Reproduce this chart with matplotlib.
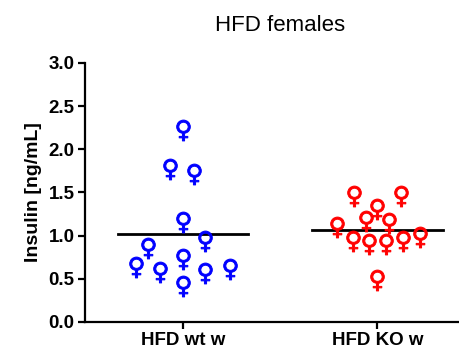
import matplotlib
matplotlib.use('Agg')
import matplotlib.pyplot as plt
import numpy as np

plt.rcParams['font.family'] = ['Liberation Sans', 'DejaVu Sans']

groups = ['HFD wt w', 'HFD KO w']
colors = ['#0000ff', '#ff0000']

# insulin values per mouse (ng/mL)
wt = [2.22, 1.77, 1.71, 1.16, 0.94, 0.85, 0.73, 0.64, 0.58, 0.57, 0.61, 0.42]
ko = [1.46, 1.46, 1.31, 1.17, 1.15, 1.10, 0.94, 0.90, 0.90, 0.94, 0.98, 0.49]
# horizontal scatter of the points, as in the prism plot
wt_off = [0, -0.065, 0.058, 0, 0.115, -0.18, 0, -0.24, -0.12, 0.115, 0.24, 0]
ko_off = [-0.119, 0.12, 0, -0.057, 0.06, -0.21, -0.128, -0.045, 0.043, 0.129, 0.218, 0]

fig = plt.figure(figsize=(4.6, 3.51), dpi=100)
ax = fig.add_axes([0.185, 0.083, 0.813, 0.738])

for i, (vals, off) in enumerate([(wt, wt_off), (ko, ko_off)]):
    x = i + np.array(off)
    ax.plot(x, vals, linestyle='none', marker='$♀$', markersize=15,
            color=colors[i], markeredgewidth=0.7)
    m = np.mean(vals)
    ax.plot([i - 0.335, i + 0.335], [m, m], color='black', lw=2, zorder=0)

ax.set_xlim(-0.504, 1.42)
ax.set_ylim(0, 3.0)
ax.set_xticks([0, 1])
ax.set_xticklabels(groups, fontsize=13.5, fontweight='bold')
ax.set_yticks(np.arange(0, 3.01, 0.5))
ax.set_yticklabels(['%.1f' % v for v in np.arange(0, 3.01, 0.5)], fontsize=13.5, fontweight='bold')
ax.set_ylabel('Insulin [ng/mL]', fontsize=14, fontweight='bold', labelpad=5)
ax.set_title('HFD females', fontsize=16, x=0.52, pad=23)

for s in ['top', 'right']:
    ax.spines[s].set_visible(False)
for s in ['left', 'bottom']:
    ax.spines[s].set_linewidth(1.6)
ax.tick_params(width=1.6, length=5, direction='out', pad=2.5)

fig.savefig('out.png', dpi=100)
